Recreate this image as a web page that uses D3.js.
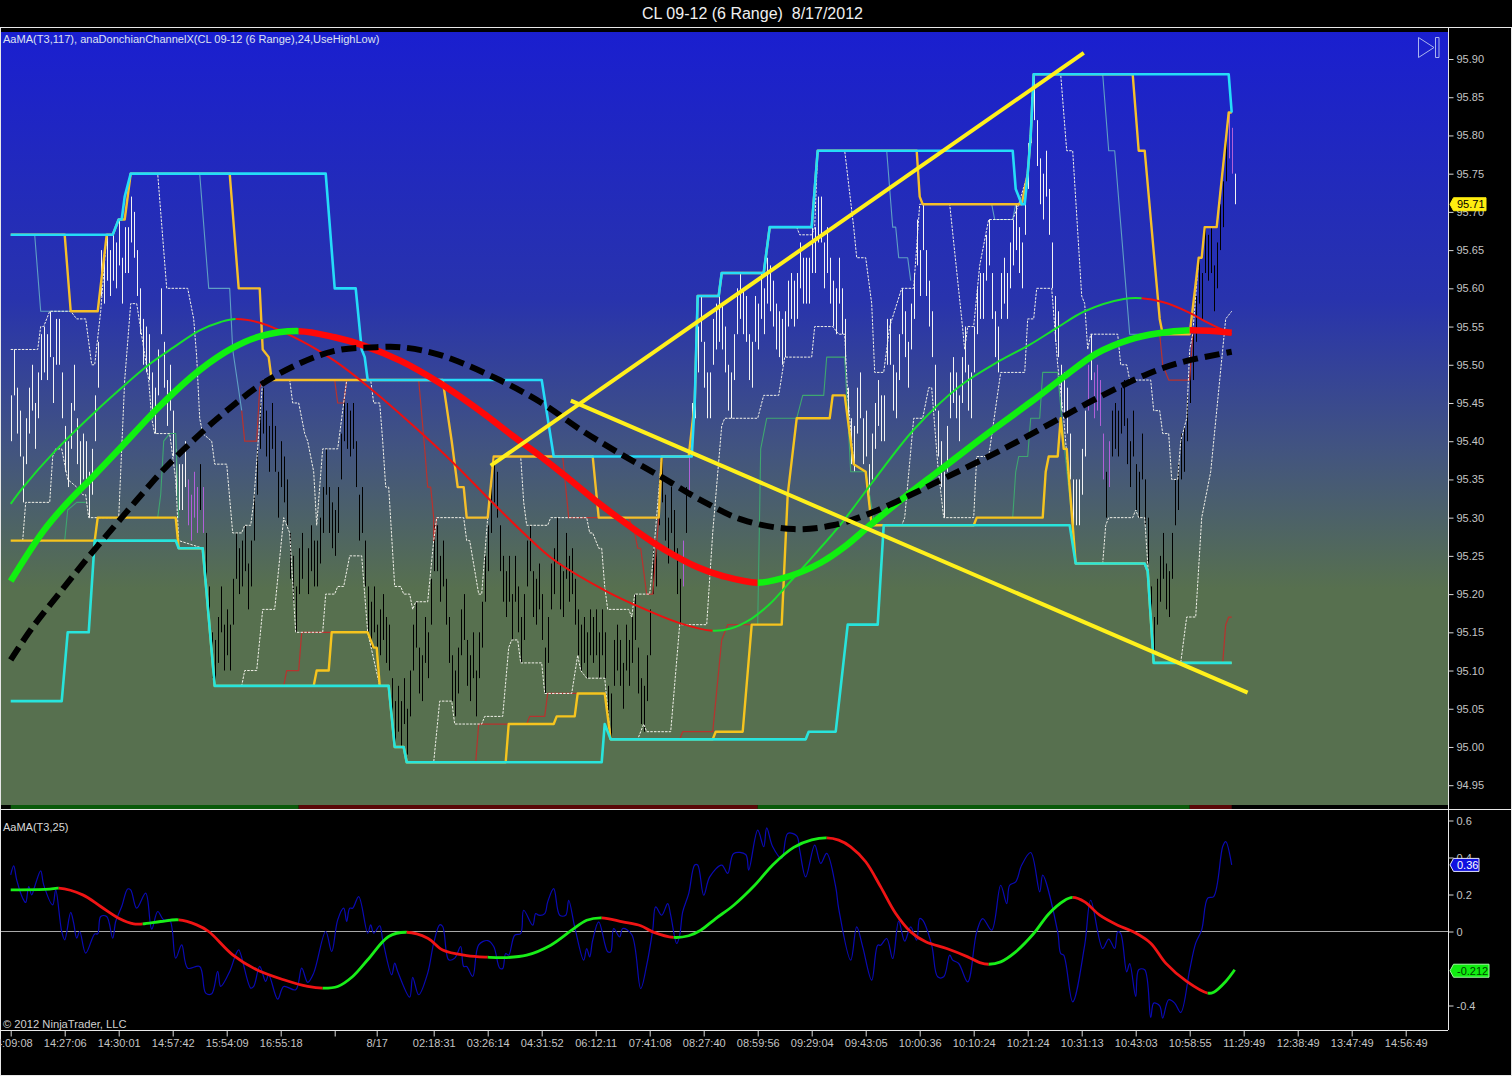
<!DOCTYPE html>
<html><head><meta charset="utf-8">
<script src="https://cdn.jsdelivr.net/npm/d3@7"></script>
<style>html,body{margin:0;padding:0;background:#000;overflow:hidden}svg{display:block}text{font-family:"Liberation Sans",Arial,sans-serif;white-space:pre}</style>
</head><body><svg id="c" width="1512" height="1076"></svg>
<script>
// ---------- text ----------
const chartTitle = "CL 09-12 (6 Range)  8/17/2012";
const priceLegend = "AaMA(T3,117), anaDonchianChannelX(CL 09-12 (6 Range),24,UseHighLow)";
const oscLegend = "AaMA(T3,25)";
const copyright = "\u00A9 2012 NinjaTrader, LLC";
// ---------- axes ----------
const priceTicks = [95.90,95.85,95.80,95.75,95.70,95.65,95.60,95.55,95.50,95.45,95.40,95.35,95.30,95.25,95.20,95.15,95.10,95.05,95.00,94.95];
const oscTicks = [0.6,0.4,0.2,0,-0.4];
const timeTickBars = [0,18,36,54,72,90,108,122,141,159,177,195,213,231,249,267,285,303,321,339,357,375,393,411,429,447,465];
const timeTickLabels = ["14:09:08","14:27:06","14:30:01","14:57:42","15:54:09","16:55:18","","8/17","02:18:31","03:26:14","04:31:52","06:12:11","07:41:08","08:27:40","08:59:56","09:29:04","09:43:05","10:00:36","10:10:24","10:21:24","10:31:13","10:43:03","10:58:55","11:29:49","12:38:49","13:47:49","14:56:49"];
// ---------- range bars: low of each bar, every bar spans barRange ----------
const barRange = 0.06;
const lastBarRange = 0.04;
const barLows = [95.40,95.46,95.41,95.38,95.32,95.37,95.41,95.44,95.39,95.43,95.48,95.49,95.48,95.51,95.45,95.50,95.50,95.43,95.36,95.34,
95.39,95.44,95.37,95.34,95.35,95.34,95.30,95.33,95.40,95.47,95.59,95.58,95.61,95.59,95.61,95.60,95.63,95.58,95.62,95.62,
95.66,95.64,95.59,95.54,95.50,95.49,95.48,95.43,95.41,95.46,95.54,95.47,95.42,95.44,95.38,95.33,95.31,95.31,95.34,95.29,
95.27,95.30,95.28,95.31,95.28,95.22,95.15,95.09,95.08,95.11,95.15,95.10,95.12,95.10,95.16,95.22,95.20,95.21,95.23,95.18,
95.21,95.27,95.33,95.39,95.41,95.38,95.36,95.39,95.36,95.30,95.34,95.32,95.29,95.22,95.19,95.15,95.20,95.22,null,95.20,
95.23,95.21,95.21,95.24,95.28,95.33,95.28,95.26,95.25,95.28,95.35,95.40,95.39,95.38,95.39,95.34,95.27,95.28,95.21,95.15,
95.13,95.15,95.10,95.12,95.14,95.11,95.10,95.03,95.00,95.02,95.00,95.03,94.99,95.04,95.10,95.13,95.07,95.06,95.11,95.09,
95.16,95.23,95.23,95.19,95.21,95.16,95.11,95.06,95.04,95.07,95.12,95.14,95.08,95.06,95.09,95.04,95.09,95.13,95.19,95.23,
95.28,95.32,95.30,95.23,95.19,95.17,95.19,95.14,95.19,95.15,95.11,95.14,95.21,95.23,95.17,95.16,95.18,95.14,95.07,95.11,
95.18,95.20,95.24,95.18,95.17,95.22,95.19,95.20,95.16,95.12,95.10,95.11,95.09,95.12,95.11,95.12,95.09,95.12,95.09,95.02,
95.01,95.08,95.10,95.08,95.05,95.10,95.08,95.11,95.14,95.07,95.03,95.02,95.06,95.12,95.20,95.21,95.29,95.32,95.27,95.24,
95.28,95.25,95.20,95.16,95.21,95.28,95.33,95.39,95.43,95.49,95.53,95.47,95.43,95.43,95.50,95.52,95.53,95.52,95.49,95.44,
95.43,95.48,95.54,95.56,95.54,95.53,95.48,95.47,95.53,95.52,95.56,95.54,95.58,95.57,95.55,95.52,95.51,95.50,95.51,95.55,
95.56,95.55,95.56,95.60,95.58,95.58,95.58,95.62,95.62,95.66,95.66,95.60,95.62,95.58,95.55,95.54,95.58,95.54,95.50,95.41,
95.37,95.36,95.41,95.43,95.37,95.38,95.31,95.35,95.39,95.42,95.40,95.40,95.50,95.50,95.44,95.43,95.48,95.54,95.51,95.47,
95.52,95.56,95.63,95.59,95.65,95.59,95.55,95.51,95.44,95.38,95.34,95.30,95.36,95.43,95.45,95.43,95.40,95.45,95.49,95.44,
95.43,95.49,95.54,95.56,95.56,95.61,95.63,95.56,95.51,95.49,95.56,95.58,95.56,95.60,95.63,95.65,95.62,95.60,95.67,95.73,
95.79,95.82,95.76,95.71,95.69,95.72,95.67,95.60,95.53,95.51,95.44,95.43,95.41,95.35,95.29,95.29,95.29,95.33,95.38,95.44,
95.48,95.43,95.44,95.42,95.35,95.30,95.34,95.38,95.39,95.38,95.41,95.42,95.37,95.34,95.38,95.31,95.30,95.35,95.29,95.24,
95.15,95.11,95.16,95.19,95.22,95.18,95.17,95.22,95.29,95.31,95.35,95.36,95.40,95.45,95.48,95.53,95.58,95.56,95.62,95.61,
95.62,95.57,95.60,95.65,95.68,95.74,95.77,95.75,95.71];
const whiteBarRuns = [[0,58],[227,358],[360,360],[408,408]];
const purpleBars = [59,60,61,62,64,224,226,359,361,362,363,364,366,406,407];
// ---------- Donchian channel lines: [bar, price] ----------
const cyanUpper = [[0,95.67],[34,95.67],[36,95.69],[37,95.69],[38,95.72],[40,95.75],[105,95.75],[108,95.60],[115,95.60],[117,95.52],[118,95.51],[119,95.48],[177,95.48],[181,95.38],[227,95.38],[228,95.45],[229,95.59],[236,95.59],[237,95.62],[251,95.62],[253,95.68],[267,95.68],[269,95.78],[334,95.78],[335,95.73],[337,95.71],[338,95.71],[339,95.75],[340,95.80],[341,95.88],[406,95.88],[407,95.83]];
const cyanLower = [[0,95.06],[17,95.06],[19,95.15],[26,95.15],[28,95.27],[55,95.27],[56,95.26],[64,95.26],[68,95.08],[126,95.08],[128,95.00],[131,95.00],[132,94.98],[197,94.98],[198,95.03],[200,95.01],[265,95.01],[266,95.02],[275,95.02],[279,95.16],[289,95.16],[291,95.29],[353,95.29],[355,95.24],[378,95.24],[379,95.23],[381,95.11],[407,95.11]];
const goldUpper = [[0,95.67],[18,95.67],[20,95.57],[29,95.57],[32,95.67],[34,95.67],[36,95.69],[38,95.69],[40,95.75],[73,95.75],[76,95.60],[83,95.60],[84,95.52],[86,95.51],[87,95.48],[144,95.48],[147,95.40],[149,95.34],[151,95.34],[152,95.30],[159,95.30],[161,95.38],[194,95.38],[196,95.30],[216,95.30],[217,95.38],[226,95.38],[228,95.45],[229,95.59],[236,95.59],[237,95.62],[251,95.62],[253,95.68],[267,95.68],[269,95.78],[302,95.78],[303,95.72],[304,95.71],[337,95.71],[339,95.75],[340,95.80],[341,95.88],[374,95.88],[376,95.78],[378,95.78],[383,95.56],[384,95.54],[393,95.54],[396,95.64],[397,95.64],[398,95.68],[402,95.68],[406,95.83],[407,95.83]];
const goldLower = [[0,95.27],[28,95.27],[29,95.30],[55,95.30],[56,95.26],[64,95.26],[68,95.08],[101,95.08],[102,95.10],[106,95.10],[107,95.15],[119,95.15],[121,95.13],[122,95.13],[123,95.08],[126,95.08],[128,95.00],[131,95.00],[132,94.98],[165,94.98],[166,95.03],[181,95.03],[182,95.04],[188,95.04],[189,95.07],[198,95.07],[200,95.01],[234,95.01],[235,95.02],[244,95.02],[247,95.16],[257,95.16],[259,95.33],[262,95.43],[273,95.43],[274,95.46],[278,95.46],[281,95.37],[285,95.36],[287,95.29],[321,95.29],[322,95.30],[344,95.30],[345,95.36],[346,95.38],[349,95.38],[350,95.43],[351,95.39],[352,95.39],[354,95.29],[355,95.24],[378,95.24],[379,95.23],[381,95.11],[407,95.11]];
const thinBlueRuns = [
 [[8,95.67],[10,95.57],[20,95.57]],
 [[63,95.75],[66,95.60],[73,95.60],[74,95.52],[77,95.44]],
 [[292,95.78],[294,95.68],[295,95.68],[296,95.64],[299,95.64],[300,95.61]],
 [[327,95.71],[328,95.69],[334,95.69],[335,95.71]],
 [[364,95.88],[366,95.78],[368,95.78],[373,95.54],[383,95.54]]];
const thinRedRuns = [
 [[77,95.44],[78,95.40],[82,95.40],[83,95.47],[84,95.48]],
 [[108,95.48],[109,95.45],[111,95.45],[112,95.48]],
 [[136,95.48],[138,95.39],[139,95.34],[140,95.34],[141,95.30],[141,95.27],[142,95.30]],
 [[184,95.38],[185,95.34],[186,95.30],[196,95.30]],
 [[206,95.30],[208,95.28],[209,95.26],[210,95.26],[212,95.20],[214,95.20],[216,95.30]],
 [[383,95.54],[384,95.50],[386,95.48],[393,95.48],[394,95.54]],
 [[91,95.08],[92,95.10],[96,95.10],[97,95.15],[107,95.15]],
 [[155,94.98],[156,95.03],[166,95.03]],
 [[172,95.03],[173,95.04],[178,95.04],[179,95.07],[189,95.07]],
 [[223,95.01],[224,95.02],[234,95.02],[235,95.06],[237,95.14],[239,95.16],[249,95.16]],
 [[404,95.11],[405,95.16],[406,95.17],[407,95.17]]];
const thinGreenRuns = [
 [[18,95.27],[19,95.31],[22,95.32],[25,95.32]],
 [[49,95.30],[50,95.33],[51,95.40],[53,95.41],[55,95.41],[56,95.30]],
 [[249,95.16],[250,95.39],[252,95.43],[262,95.43],[264,95.46],[271,95.46],[272,95.51],[278,95.51],[280,95.36],[285,95.36],[288,95.29]],
 [[334,95.30],[335,95.36],[336,95.38],[339,95.38],[340,95.43],[343,95.43],[344,95.49],[349,95.49],[351,95.40],[354,95.29]]];
const dottedUpper = [[0,95.52],[9,95.52],[10,95.55],[11,95.55],[13,95.57],[20,95.57],[22,95.56],[25,95.56],[27,95.50],[28,95.50],[30,95.57],[32,95.67],[34,95.67],[36,95.69],[38,95.69],[40,95.75],[49,95.75],[52,95.60],[59,95.60],[61,95.56],[62,95.51],[63,95.43],[64,95.41],[67,95.40],[68,95.37],[72,95.37],[74,95.28],[77,95.28],[78,95.29],[80,95.29],[81,95.32],[84,95.48],[93,95.48],[94,95.45],[96,95.45],[98,95.41],[99,95.40],[101,95.36],[102,95.29],[104,95.39],[109,95.39],[111,95.45],[112,95.48],[120,95.48],[121,95.45],[123,95.45],[124,95.40],[125,95.34],[126,95.34],[128,95.21],[130,95.21],[131,95.20],[133,95.20],[134,95.18],[135,95.19],[139,95.19],[141,95.27],[142,95.30],[151,95.30],[152,95.27],[153,95.27],[156,95.20],[157,95.20],[159,95.30],[161,95.38],[170,95.38],[171,95.32],[172,95.29],[179,95.29],[180,95.30],[192,95.30],[193,95.28],[194,95.28],[196,95.26],[197,95.26],[198,95.21],[199,95.18],[206,95.18],[207,95.17],[208,95.20],[213,95.20],[214,95.24],[217,95.38],[226,95.38],[228,95.45],[229,95.59],[236,95.59],[237,95.62],[251,95.62],[253,95.68],[262,95.68],[263,95.67],[267,95.67],[268,95.68],[269,95.78],[278,95.78],[281,95.68],[282,95.64],[285,95.64],[287,95.58],[288,95.49],[291,95.49],[293,95.55],[297,95.60],[301,95.60],[303,95.71],[313,95.71],[317,95.56],[318,95.52],[319,95.55],[321,95.55],[323,95.63],[326,95.69],[334,95.69],[336,95.71],[339,95.75],[340,95.80],[341,95.88],[350,95.88],[352,95.78],[354,95.78],[357,95.59],[358,95.58],[359,95.52],[360,95.54],[369,95.54],[370,95.50],[372,95.50],[373,95.48],[380,95.48],[381,95.44],[383,95.44],[384,95.41],[386,95.41],[387,95.35],[389,95.35],[390,95.40],[392,95.43],[393,95.52],[394,95.54],[396,95.64],[397,95.64],[398,95.68],[402,95.68],[406,95.83],[407,95.83]];
const dottedLower = [[4,95.27],[5,95.32],[13,95.32],[14,95.38],[15,95.39],[17,95.39],[19,95.35],[22,95.34],[24,95.33],[25,95.33],[26,95.30],[36,95.30],[38,95.48],[40,95.58],[42,95.58],[46,95.48],[47,95.43],[48,95.41],[53,95.41],[54,95.38],[55,95.35],[56,95.27],[64,95.26],[68,95.08],[77,95.08],[78,95.10],[82,95.10],[84,95.18],[88,95.18],[91,95.30],[93,95.28],[95,95.15],[104,95.15],[105,95.20],[108,95.20],[109,95.21],[111,95.21],[113,95.25],[117,95.25],[119,95.15],[123,95.08],[126,95.08],[128,95.00],[131,95.00],[132,94.98],[141,94.98],[143,95.06],[147,95.06],[148,95.03],[157,95.03],[158,95.04],[164,95.04],[166,95.13],[167,95.14],[169,95.14],[170,95.11],[177,95.11],[178,95.07],[187,95.07],[189,95.12],[190,95.10],[192,95.09],[198,95.09],[200,95.01],[209,95.01],[211,95.03],[212,95.02],[220,95.02],[223,95.16],[232,95.16],[234,95.28],[237,95.42],[238,95.43],[249,95.43],[251,95.46],[256,95.46],[258,95.51],[267,95.51],[268,95.55],[274,95.55],[276,95.54],[278,95.54],[279,95.46],[281,95.37],[285,95.36],[287,95.29],[297,95.29],[298,95.30],[301,95.43],[304,95.43],[306,95.47],[307,95.47],[309,95.37],[311,95.30],[321,95.30],[322,95.38],[326,95.38],[330,95.49],[338,95.49],[339,95.56],[341,95.56],[342,95.60],[347,95.60],[349,95.50],[351,95.43],[354,95.29],[355,95.24],[364,95.24],[365,95.29],[366,95.30],[374,95.30],[375,95.31],[376,95.30],[378,95.30],[379,95.24],[381,95.11],[390,95.11],[392,95.17],[395,95.17],[397,95.30],[400,95.36],[404,95.52],[405,95.56],[407,95.57]];
// ---------- moving averages in the price panel: [bar, price]; flips = bars where colour changes ----------
const thickMa = [[0,95.217],[11,95.283],[19,95.320],[27,95.352],[37,95.393],[50,95.447],[63,95.493],[74,95.522],[83,95.537],[96,95.544],[108,95.536],[117,95.526],[130,95.505],[143,95.476],[157,95.438],[167,95.408],[177,95.379],[186,95.351],[196,95.319],[207,95.287],[218,95.258],[229,95.235],[237,95.224],[249,95.215],[260,95.224],[270,95.241],[278,95.262],[287,95.292],[298,95.327],[310,95.363],[326,95.411],[340,95.451],[351,95.484],[362,95.515],[373,95.533],[382,95.541],[393,95.545],[407,95.542]];
const thickFlips = [96,249,393];
const thinMa = [[0,95.318],[4,95.339],[15,95.388],[28,95.438],[37,95.470],[46,95.500],[54,95.522],[63,95.545],[70,95.556],[75,95.560],[83,95.555],[97,95.531],[108,95.505],[119,95.472],[130,95.435],[141,95.396],[149,95.366],[160,95.322],[172,95.276],[181,95.245],[198,95.205],[208,95.186],[223,95.162],[234,95.152],[240,95.155],[247,95.168],[253,95.187],[260,95.217],[268,95.252],[277,95.293],[287,95.345],[301,95.415],[316,95.471],[330,95.506],[340,95.527],[349,95.549],[358,95.570],[371,95.586],[377,95.587],[384,95.582],[393,95.568],[399,95.555],[407,95.540]];
const thinFlips = [75,234,377];
const blackDashedMa = [[0,95.114],[7,95.155],[17,95.205],[26,95.249],[37,95.300],[44,95.332],[51,95.363],[60,95.398],[69,95.430],[83,95.473],[97,95.503],[109,95.519],[122,95.523],[130,95.523],[143,95.513],[163,95.480],[177,95.450],[190,95.415],[203,95.384],[217,95.353],[230,95.323],[244,95.297],[261,95.285],[274,95.290],[286,95.305],[299,95.328],[312,95.353],[330,95.388],[347,95.424],[362,95.456],[379,95.488],[390,95.503],[407,95.517]];
const trendUp = [[160,95.368],[357.7,95.908]];
const trendDown = [[186.7,95.453],[412.3,95.071]];
// ---------- oscillator panel: [bar, value] ----------
const oscBlue = [[0,.306],[1,.355],[2,.279],[4,.180],[5,.157],[6,.243],[7,.198],[8,.243],[10,.328],[11,.252],[14,.144],[15,.225],[17,0],[18,-.045],[20,.103],[21,.045],[22,-.036],[23,0],[25,-.117],[28,-.013],[29,-.013],[30,.081],[32,.081],[34,-.036],[35,.054],[37,.135],[39,.230],[40,.225],[42,.126],[45,.207],[47,.013],[49,.108],[51,.063],[53,.063],[55,-.144],[57,-.072],[59,-.198],[63,-.189],[65,-.333],[67,-.337],[69,-.216],[70,-.297],[73,-.216],[75,-.126],[76,-.099],[80,-.306],[81,-.297],[83,-.189],[85,-.270],[86,-.234],[89,-.366],[91,-.297],[95,-.315],[97,-.198],[99,-.275],[101,-.225],[105,0],[107,-.108],[109,.063],[111,.126],[112,.054],[113,.126],[114,.126],[116,.189],[119,-.009],[120,.036],[121,-.009],[123,.031],[124,-.045],[127,-.234],[128,-.171],[129,-.216],[133,-.355],[134,-.248],[136,-.342],[139,-.225],[141,-.063],[143,.036],[144,.027],[146,-.153],[148,-.144],[150,-.081],[151,-.189],[152,-.189],[154,-.243],[156,-.072],[159,-.049],[161,-.081],[163,-.198],[164,-.20],[165,-.119],[166,-.128],[168,-.02],[170,-.011],[171,.115],[174,.034],[175,.097],[176,.088],[178,.097],[179,.16],[181,.232],[183,.088],[185,.088],[186,.169],[188,.025],[191,-.155],[192,-.092],[193,-.137],[194,-.047],[196,.052],[199,-.11],[200,-.11],[201,.016],[203,-.029],[204,.016],[207,-.016],[210,-.308],[212,-.182],[214,.007],[215,.133],[217,.088],[219,.151],[220,.088],[222,-.065],[223,-.02],[224,.106],[226,.205],[228,.359],[229,.359],[231,.196],[233,.295],[237,.359],[239,.314],[241,.422],[245,.416],[246,.332],[249,.548],[251,.458],[252,.56],[254,.458],[257,.395],[259,.53],[262,.517],[263,.44],[265,.295],[268,.467],[270,.368],[272,.422],[275,.241],[276,.124],[280,-.155],[282,.025],[284,-.083],[287,-.263],[289,-.074],[290,-.074],[292,-.038],[294,-.146],[296,.056],[298,-.052],[300,.025],[302,-.047],[303,.07],[304,.061],[307,-.074],[309,-.245],[311,-.245],[313,-.128],[314,-.155],[316,-.173],[319,-.272],[322,-.002],[324,.07],[327,.007],[330,.25],[332,.151],[333,.25],[335,.268],[337,.359],[340,.427],[343,.214],[344,.305],[349,-.002],[350,-.119],[351,-.128],[354,-.38],[358,-.074],[360,.169],[364,-.092],[366,-.041],[368,-.092],[369,-.002],[370,-.011],[372,-.218],[373,-.173],[375,-.351],[376,-.207],[378,-.207],[380,-.465],[381,-.387],[383,-.402],[384,-.468],[386,-.369],[388,-.387],[390,-.438],[393,-.207],[395,-.063],[397,.009],[399,.18],[401,.189],[404,.459],[405,.486],[407,.36]];
const oscMa = [[0,.225],[3,.225],[13,.229],[16,.234],[24,.198],[30,.135],[36,.072],[41,.041],[44,.041],[50,.054],[56,.063],[62,.036],[66,0],[74,-.126],[82,-.207],[91,-.261],[99,-.297],[104,-.306],[109,-.297],[114,-.243],[119,-.153],[126,-.027],[132,-.004],[139,-.036],[144,-.100],[152,-.13],[159,-.139],[165,-.141],[172,-.128],[180,-.074],[187,.007],[192,.061],[197,.074],[204,.052],[210,.031],[214,-.002],[221,-.032],[226,-.023],[230,.007],[235,.07],[241,.142],[248,.25],[254,.36],[261,.455],[267,.495],[272,.506],[276,.494],[280,.458],[285,.377],[290,.241],[295,.097],[300,-.002],[305,-.056],[312,-.092],[319,-.137],[323,-.168],[326,-.177],[330,-.164],[335,-.11],[341,-.011],[346,.095],[351,.165],[354,.184],[358,.16],[363,.088],[369,.034],[374,0],[380,-.063],[385,-.171],[392,-.27],[399,-.333],[401,-.328],[405,-.27],[408,-.207]];
const oscFlips = [16,44,56,104,132,159,197,221,272,326,354,399];
const regimeBands = [[0,96,"#0b5a0b"],[96,249,"#5a0808"],[249,393,"#0b5a0b"],[393,407,"#5a0808"]];
const priceFlag = 95.71, oscBlueFlag = 0.36, oscGreenFlag = -0.212;

// ---------- scales ----------
const svg = d3.select("#c");
const x = d3.scaleLinear().domain([0,479]).range([10.7,1447.7]);
const y = d3.scaleLinear().domain([95.90,94.95]).range([59,785.2]);
const yO = d3.scaleLinear().domain([0.6,-0.4]).range([820.5,1005.5]);

const defs = svg.append("defs");
const g = defs.append("linearGradient").attr("id","bg").attr("gradientUnits","userSpaceOnUse").attr("x1",0).attr("x2",0).attr("y1",32).attr("y2",805);
[[0,"#1a1fcf"],[.345,"#2833ad"],[.54,"#425480"],[.72,"#57704f"],[1,"#57704f"]].forEach(s=>g.append("stop").attr("offset",s[0]).attr("stop-color",s[1]));
defs.append("clipPath").attr("id","cm").append("rect").attr("x",1).attr("y",32).attr("width",1447).attr("height",773);
defs.append("clipPath").attr("id","co").append("rect").attr("x",1).attr("y",810).attr("width",1447).attr("height",220);

svg.append("rect").attr("width",1512).attr("height",1076).attr("fill","#000");
svg.append("rect").attr("x",1).attr("y",32).attr("width",1447).attr("height",773).attr("fill","url(#bg)");

// regime strip
svg.append("g").selectAll("rect").data(regimeBands).join("rect")
 .attr("x",d=>x(d[0])).attr("width",d=>x(d[1])-x(d[0])).attr("y",805).attr("height",4).attr("fill",d=>d[2]);

const main = svg.append("g").attr("clip-path","url(#cm)");
const lineP = d3.line().x(d=>x(d[0])).y(d=>y(d[1]));
const smoothP = d3.line().x(d=>x(d[0])).y(d=>y(d[1])).curve(d3.curveCatmullRom);
const lineO = d3.line().x(d=>x(d[0])).y(d=>yO(d[1])).curve(d3.curveCatmullRom);

// bars
const purpleSet = new Set(purpleBars);
const barColor = i => purpleSet.has(i) ? "#b060d8" : (whiteBarRuns.some(r=>i>=r[0]&&i<=r[1]) ? "#f4f4f4" : "#000");
const barData = barLows.map((l,i)=>({i,l})).filter(d=>d.l!==null);
main.append("g").selectAll("line").data(barData).join("line")
 .attr("x1",d=>Math.round(x(d.i))+.5).attr("x2",d=>Math.round(x(d.i))+.5)
 .attr("y1",d=>y(d.l)).attr("y2",d=>y(d.l+(d.i===barLows.length-1?lastBarRange:barRange)))
 .attr("stroke",d=>barColor(d.i)).attr("stroke-width",1);

function path(parent,gen,d,color,w,extra){
  const p = parent.append("path").attr("d",gen(d)).attr("fill","none").attr("stroke",color).attr("stroke-width",w).attr("stroke-linejoin","round");
  if(extra) p.attr("stroke-dasharray",extra);
  return p;
}
// one smooth curve drawn per colour run, each copy clipped to the bars of its run
let clipN = 0;
function twoTone(parent,gen,pts,flips,colors,w){
  const edges = [pts[0][0],...flips,pts[pts.length-1][0]];
  d3.pairs(edges).forEach(([a,b],k)=>{
    const id = "run"+(clipN++);
    const isFirst = k===0, isLast = k===edges.length-2;
    defs.append("clipPath").attr("id",id).append("rect")
      .attr("x",isFirst?0:x(a)).attr("width",(isLast?1448:x(b))-(isFirst?0:x(a))).attr("y",0).attr("height",1076);
    path(parent.append("g").attr("clip-path",`url(#${id})`),gen,pts,colors[k%2],w).attr("stroke-linecap","butt");
  });
}
// thin channel lines
thinBlueRuns.forEach(r=>path(main,lineP,r,"#5f9fc4",1.1));
thinRedRuns.forEach(r=>path(main,lineP,r,"#b8322e",1.2));
thinGreenRuns.forEach(r=>path(main,lineP,r,"#3fa670",1.1));
// dotted channel lines
path(main,lineP,dottedUpper,"#f0f0e8",1,"2.5 1.2");
path(main,lineP,dottedLower,"#f0f0e8",1,"2.5 1.2");
// gold
path(main,lineP,goldUpper,"#f6bf2a",2.4);
path(main,lineP,goldLower,"#f6c41e",2.4);
// cyan
path(main,lineP,cyanUpper,"#25dcf8",2.6);
path(main,lineP,cyanLower,"#28e4dc",2.6);
// moving averages
twoTone(main,smoothP,thinMa,thinFlips,["#18e02c","#ee1010"],2);
twoTone(main,smoothP,thickMa,thickFlips,["#10f010","#ff0808"],6.5);
path(main,smoothP,blackDashedMa,"#000",6,"15 7");
// trend lines
path(main,lineP,trendUp,"#fff01c",4);
path(main,lineP,trendDown,"#fff01c",4);

// oscillator
const osc = svg.append("g").attr("clip-path","url(#co)");
osc.append("line").attr("x1",0).attr("x2",1448).attr("y1",yO(0)).attr("y2",yO(0)).attr("stroke","#a8a8a8").attr("stroke-width",1);
path(osc,lineO,oscBlue,"#0a0ab4",1.2);
twoTone(osc,lineO,oscMa,oscFlips,["#18ee18","#f01414"],2.8);

// frames
const lc="#e8e8e8";
[[0,27.5,1512,27.5],[0,809.5,1512,809.5],[0,1030.5,1448,1030.5],[1448.5,27,1448.5,1030],[.5,27,.5,1076],[1511.5,27,1511.5,1076],[0,1075.5,1512,1075.5]]
 .forEach(l=>svg.append("line").attr("x1",l[0]).attr("y1",l[1]).attr("x2",l[2]).attr("y2",l[3]).attr("stroke",lc).attr("stroke-width",1));

// axes
function styleAxis(a){a.select(".domain").remove();a.selectAll("line").attr("stroke","#d8d8d8");a.selectAll("text").attr("fill","#c4c4c4").attr("font-size",11).attr("font-family","Liberation Sans");}
const aP = svg.append("g").attr("transform","translate(1448.5,0)").call(d3.axisRight(y).tickValues(priceTicks).tickFormat(d3.format(".2f")).tickSize(5).tickPadding(3));
styleAxis(aP);
const aO = svg.append("g").attr("transform","translate(1448.5,0)").call(d3.axisRight(yO).tickValues(oscTicks).tickFormat(d=>d===0?"0":String(d)).tickSize(5).tickPadding(3));
styleAxis(aO);
const labelByBar = new Map(timeTickBars.map((b,k)=>[b,timeTickLabels[k]]));
const aT = svg.append("g").attr("transform","translate(0,1030.5)").call(d3.axisBottom(x).tickValues(timeTickBars).tickFormat(b=>labelByBar.get(b)).tickSize(6).tickPadding(3));
styleAxis(aT);

// flags
function flag(v,scale,right,h,fill,stroke,color){
  const yy = scale(v);
  svg.append("path").attr("d",`M1450,${yy} L1453.5,${yy-h/2} H${right} V${yy+h/2} H1453.5 Z`).attr("fill",fill).attr("stroke",stroke).attr("stroke-width",1);
  svg.append("text").attr("x",1457).attr("y",yy+4).attr("font-size",11).attr("fill",color).text(v===priceFlag?v.toFixed(2):String(v));
}
flag(priceFlag,y,1486,13,"#ffee10","#ffee10","#000");
flag(oscBlueFlag,yO,1479,13,"#1010e0","#e8e8ff","#fff");
flag(oscGreenFlag,yO,1489,13,"#10ee10","#a0ffa0","#004400");

// text
svg.append("text").attr("x",752.5).attr("y",18.5).attr("text-anchor","middle").attr("font-size",16).attr("fill","#f0f0f0").text(chartTitle);
svg.append("text").attr("x",3).attr("y",43).attr("font-size",11.05).attr("fill","#dde0f0").text(priceLegend);
svg.append("text").attr("x",3).attr("y",831).attr("font-size",11).attr("fill","#d8d8d8").text(oscLegend);
svg.append("text").attr("x",3).attr("y",1028).attr("font-size",11.2).attr("fill","#d0d0d0").text(copyright);
// jump-to-end icon
svg.append("path").attr("d","M1418.5,37.5 L1434,47.5 L1418.5,57.5 Z M1435.5,37.5 H1439 V57.5 H1435.5 Z").attr("fill","none").attr("stroke","#aab4ee").attr("stroke-width",1);
</script></body></html>
